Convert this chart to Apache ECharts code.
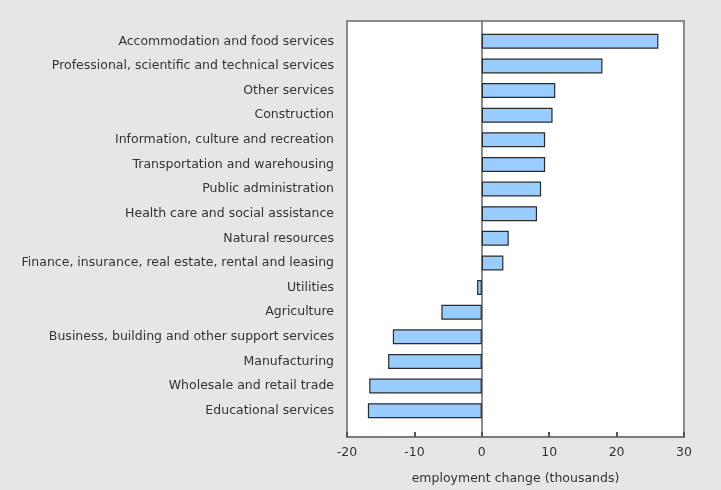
<!DOCTYPE html>
<html>
<head>
<meta charset="utf-8">
<script src="https://cdn.jsdelivr.net/npm/echarts@6/dist/echarts.min.js"></script>
<style>
  html, body { margin: 0; padding: 0; background: #e6e6e6; }
  #chart { width: 721px; height: 490px; }
</style>
</head>
<body>
<div id="chart"></div>
<script>
// categories, top to bottom as in the picture
const industries = [
  'Accommodation and food services',
  'Professional, scientific and technical services',
  'Other services',
  'Construction',
  'Information, culture and recreation',
  'Transportation and warehousing',
  'Public administration',
  'Health care and social assistance',
  'Natural resources',
  'Finance, insurance, real estate, rental and leasing',
  'Utilities',
  'Agriculture',
  'Business, building and other support services',
  'Manufacturing',
  'Wholesale and retail trade',
  'Educational services'
]
// employment change, thousands
const changes = [26.2, 17.9, 10.9, 10.5, 9.4, 9.4, 8.8, 8.2, 4.0, 3.2, -0.7, -6.0, -13.2, -13.9, -16.7, -16.9]
const xTicks = [-20, -10, 0, 10, 20, 30]
const xTitle = 'employment change (thousands)'

const FONT = 'DejaVu Sans'
let chart = echarts.init(document.getElementById('chart'))

let option = {
  backgroundColor: '#e6e6e6',
  animation: false,
  textStyle: { fontFamily: FONT },
  grid: [
    // outer frame with the value axis
    {
      left: 347, right: 37, top: 21, bottom: 52,
      show: true,
      backgroundColor: '#ffffff',
      borderColor: '#8a8a8a',
      borderWidth: 2
    },
    // inner band for the categories
    {
      left: 347, right: 37, top: 29, bottom: 67
    }
  ],
  xAxis: [
    {
      gridIndex: 0,
      type: 'value',
      min: xTicks[0],
      max: xTicks[xTicks.length - 1],
      interval: 10,
      splitLine: { show: false },
      axisLine: { show: true, lineStyle: { color: '#7a7a7a', width: 2 } },
      axisTick: { show: true, inside: true, length: 5, lineStyle: { color: '#555', width: 2 } },
      axisLabel: { color: '#333', fontSize: 12.5, fontFamily: FONT, margin: 9 },
      name: xTitle,
      nameLocation: 'middle',
      nameGap: 35,
      nameTextStyle: { color: '#333', fontSize: 12.5, fontFamily: FONT }
    },
    {
      gridIndex: 1,
      type: 'value',
      min: xTicks[0],
      max: xTicks[xTicks.length - 1],
      show: false
    }
  ],
  yAxis: [
    {
      // zero line across the whole frame
      gridIndex: 0,
      type: 'value',
      min: 0,
      max: 1,
      axisLine: { show: true, onZero: true, lineStyle: { color: '#666', width: 1.5 } },
      axisTick: { show: false },
      axisLabel: { show: false },
      splitLine: { show: false }
    },
    {
      gridIndex: 1,
      type: 'category',
      inverse: true,
      data: industries,
      position: 'left',
      axisLine: { show: false, onZero: false },
      axisTick: { show: false },
      axisLabel: { color: '#333', fontSize: 12.5, fontFamily: FONT, margin: 13, padding: [3, 0, 0, 0] },
      splitLine: { show: false }
    }
  ],
  series: [
    {
      type: 'bar',
      xAxisIndex: 1,
      yAxisIndex: 1,
      data: changes,
      barWidth: 15,
      itemStyle: {
        color: '#99ccff',
        borderColor: '#2b2b2b',
        borderWidth: 1.2
      },
      z: 3
    }
  ]
}

chart.setOption(option)
</script>
</body>
</html>
